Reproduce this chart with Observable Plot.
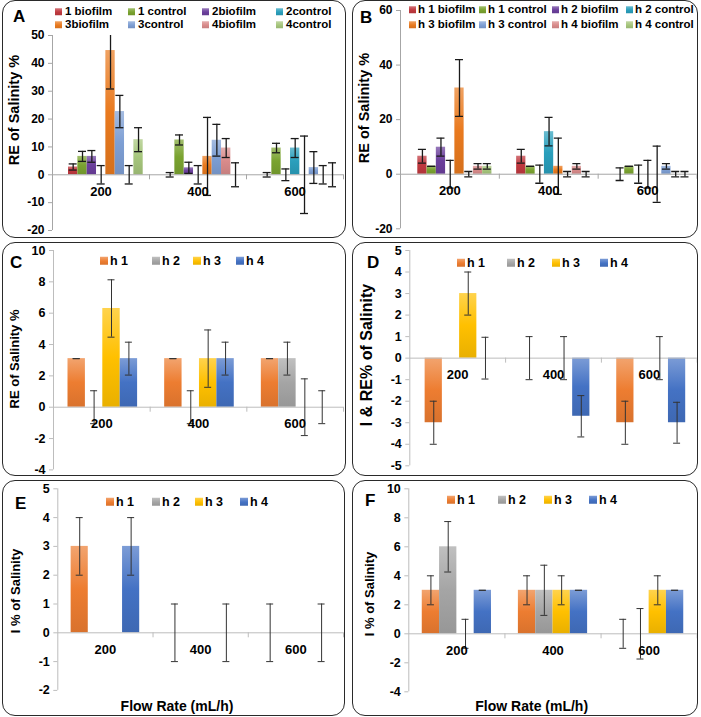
<!DOCTYPE html>
<html><head><meta charset="utf-8">
<script src="https://cdn.jsdelivr.net/npm/d3@7"></script>
<script src="https://cdn.jsdelivr.net/npm/@observablehq/plot@0.6"></script>
<style>
html,body{margin:0;padding:0;background:#fff;}
body{width:701px;height:717px;position:relative;overflow:hidden;font-family:'Liberation Sans',Arial,sans-serif;}
.box{position:absolute;border:1.5px solid #2a2a2a;border-radius:13px;box-sizing:border-box;pointer-events:none;}
.chart{position:absolute;}
.lbl{position:absolute;font-weight:bold;color:#000;white-space:nowrap;line-height:1;transform:translateY(-50%);}
.ctitle{position:absolute;font-weight:bold;color:#000;white-space:nowrap;line-height:1;transform:translate(-50%,-50%);}
.ytitle{position:absolute;font-weight:bold;color:#000;white-space:nowrap;line-height:1;transform:translate(-50%,-50%) rotate(-90deg);}
.leg{position:absolute;display:flex;align-items:center;font-weight:bold;color:#000;white-space:nowrap;line-height:1;transform:translateY(-50%);}
.sw{display:inline-block;flex:none;}
</style></head><body>
<script>
// ---------------- data ----------------
const flowRates = ["200", "400", "600"];

// Panel A
const seriesA = ["1 biofilm", "1 control", "2biofilm", "2control", "3biofilm", "3control", "4biofilm", "4control"];
const valuesA = [
  [2.8, 0, 0],
  [6.6, 12.5, 9.6],
  [6.6, 2.5, 0],
  [0, 0, 9.6],
  [44.6, 6.6, 0],
  [22.7, 12.4, 2.6],
  [0, 9.6, 0],
  [12.6, 0, 0]
];
const errorsA = [
  [1.1, 0.8, 0.8],
  [1.8, 1.8, 1.7],
  [2.1, 2.0, 2.1],
  [3.3, 3.3, 3.4],
  [13.8, 14, 13.9],
  [5.8, 5.7, 5.7],
  [3.3, 3.4, 3.3],
  [4.3, 4.3, 4.3]
];
const ticksA = [-20, -10, 0, 10, 20, 30, 40, 50];

// Panel B
const seriesB = ["h 1 biofilm", "h 1 control", "h 2 biofilm", "h 2 control", "h 3 biofilm", "h 3 control", "h 4 biofilm", "h 4 control"];
const valuesB = [
  [6.6, 6.6, 0],
  [2.9, 2.9, 2.9],
  [9.9, 0, 0],
  [0, 15.6, 0],
  [31.6, 2.9, 0],
  [0, 0, 2.9],
  [2.9, 2.9, 0],
  [2.9, 0, 0]
];
const errorsB = [
  [2.5, 2.5, 2.3],
  [0, 0, 0],
  [3.3, 3.3, 3.3],
  [5.1, 5.2, 5.1],
  [10.4, 10.3, 10.3],
  [1, 1, 1],
  [1, 1, 1],
  [1, 1, 1]
];
const ticksB = [-20, 0, 20, 40, 60];

// Panels C-F
const seriesH = ["h 1", "h 2", "h 3", "h 4"];

const valuesC = [
  [3.1, 3.1, 3.1],
  [0, 0, 3.1],
  [6.3, 3.1, 0],
  [3.1, 3.1, 0]
];
const errorsC = [
  [0, 0, 0],
  [1.05, 1.05, 1.05],
  [1.83, 1.83, 1.81],
  [1.05, 1.05, 1.05]
];
const ticksC = [-4, -2, 0, 2, 4, 6, 8, 10];

const valuesD = [
  [-3, 0, -3],
  [0, 0, 0],
  [3, 0, 0],
  [0, -2.7, -3]
];
const errorsD = [
  [1, 1, 1],
  [null, null, null],
  [1, 1, 1],
  [0.97, 0.96, 0.95]
];
const ticksD = [-5, -4, -3, -2, -1, 0, 1, 2, 3, 4, 5];

const valuesE = [
  [3, 0, 0],
  [0, 0, 0],
  [0, 0, 0],
  [3, 0, 0]
];
const errorsE = [
  [1, 1, 1],
  [null, null, null],
  [null, null, null],
  [1, 1, 1]
];
const ticksE = [-2, -1, 0, 1, 2, 3, 4, 5];

const valuesF = [
  [3, 3, 0],
  [6, 3, 0],
  [0, 3, 3],
  [3, 3, 3]
];
const errorsF = [
  [1, 1, 1],
  [1.74, 1.73, 1.74],
  [1, 1, 1],
  [0, 0, 0]
];
const ticksF = [-4, -2, 0, 2, 4, 6, 8, 10];

const colors8 = ["#c0393f", "#7aa330", "#6b3f9c", "#2a9fbc", "#e97a1f", "#7e9fd4", "#d98b8b", "#a6c67c"];
const colors4 = ["#ed7d31", "#a5a5a5", "#ffc000", "#4472c4"];

// ---------------- helpers ----------------
const FONT = "'Liberation Sans', Arial, sans-serif";
function lighten(c, t) { return d3.color(d3.interpolateRgb(c, "#ffffff")(t)).formatHex(); }
function darken(c, k) { return d3.color(c).darker(k).formatHex(); }

function addGradients(svg, prefix, colors) {
  const ns = "http://www.w3.org/2000/svg";
  const defs = document.createElementNS(ns, "defs");
  colors.forEach((c, i) => {
    const lg = document.createElementNS(ns, "linearGradient");
    lg.setAttribute("id", prefix + i);
    lg.setAttribute("x1", "0"); lg.setAttribute("y1", "0");
    lg.setAttribute("x2", "0"); lg.setAttribute("y2", "1");
    [[0, lighten(c, 0.3)], [0.5, c], [1, darken(c, 0.25)]].forEach(([o, col]) => {
      const st = document.createElementNS(ns, "stop");
      st.setAttribute("offset", o);
      st.setAttribute("stop-color", col);
      lg.appendChild(st);
    });
    defs.appendChild(lg);
  });
  svg.insertBefore(defs, svg.firstChild);
}

function div(cls, css, html) {
  const d = document.createElement("div");
  d.className = cls;
  Object.assign(d.style, css);
  if (html !== undefined) d.textContent = html;
  document.body.appendChild(d);
  return d;
}

function panel(cfg) {
  const {id, box, m, yDomain, yTicks, series, values, errors, colors, slotFrac, shift,
    tickFont, labelDy, axisColor, errColor, errWidth, cap} = cfg;
  const n = series.length;
  const slot = slotFrac / n;
  const rows = [];
  series.forEach((s, i) => flowRates.forEach((g, j) => {
    rows.push({series: s, i, g: j, value: values[i][j], err: errors[i][j]});
  }));
  const xc = d => d.g + shift + (d.i - (n - 1) / 2) * slot;
  const bars = rows.filter(d => d.value !== 0);
  const errs = rows.filter(d => d.err !== null && d.err !== undefined);
  const bounds = flowRates.map((d, i) => i + 0.5);

  const svg = Plot.plot({
    width: box.w, height: box.h,
    marginLeft: m[0], marginRight: m[1], marginTop: m[2], marginBottom: m[3],
    style: {fontFamily: FONT, background: "none", overflow: "visible"},
    x: {domain: [-0.5, flowRates.length - 0.5], axis: null},
    y: {domain: yDomain},
    color: {type: "ordinal", domain: series, range: series.map((s, i) => `url(#${id}${i})`)},
    marks: [
      Plot.ruleX([-0.5], {y1: () => yDomain[0], y2: () => yDomain[1], stroke: axisColor}),
      Plot.axisY({ticks: yTicks, tickSize: 4, tickPadding: 4, tickFormat: d => String(d),
        stroke: axisColor, fill: "#000", fontWeight: "bold", fontSize: tickFont, label: null}),
      Plot.rect(bars, {x1: d => xc(d) - slot / 2, x2: d => xc(d) + slot / 2,
        y1: () => 0, y2: "value", fill: "series"}),
      Plot.ruleY([0], {stroke: axisColor}),
      Plot.ruleX(bounds, {y1: () => 0, y2: () => 0, insetBottom: -5, stroke: axisColor}),
      Plot.ruleX(errs, {x: xc, y1: d => d.value - d.err, y2: d => d.value + d.err,
        stroke: errColor, strokeWidth: errWidth, clip: true}),
      Plot.ruleY(errs, {x1: xc, x2: xc, y: d => d.value + d.err, insetLeft: -cap, insetRight: -cap,
        stroke: errColor, strokeWidth: errWidth, clip: true}),
      Plot.ruleY(errs, {x1: xc, x2: xc, y: d => d.value - d.err, insetLeft: -cap, insetRight: -cap,
        stroke: errColor, strokeWidth: errWidth, clip: true}),
      Plot.text(flowRates, {x: (d, i) => i, y: () => 0, dy: labelDy, text: d => d,
        fontWeight: "bold", fontSize: 13, fill: "#000"})
    ]
  });
  addGradients(svg, id, colors);
  svg.style.background = "none";
  const wrap = div("chart", {left: box.x + "px", top: box.y + "px", width: box.w + "px", height: box.h + "px"});
  wrap.appendChild(svg);

  // border
  div("box", {left: box.x + "px", top: box.y + "px", width: box.w + "px", height: box.h + "px"});
  // panel letter
  div("lbl", {left: cfg.letter.x + "px", top: cfg.letter.y + "px", fontSize: "17px"}, cfg.letter.t);
  // y title
  div("ytitle", {left: cfg.ytitle.x + "px", top: cfg.ytitle.y + "px", fontSize: cfg.ytitle.s + "px"}, cfg.ytitle.t);
  // x title
  if (cfg.xtitle) div("ctitle", {left: cfg.xtitle.x + "px", top: cfg.xtitle.y + "px", fontSize: "14px"}, cfg.xtitle.t);
  // legend
  const L = cfg.legend;
  series.forEach((s, i) => {
    const col = i % L.cols.length, row = Math.floor(i / L.cols.length);
    const item = div("leg", {left: L.cols[col] + "px", top: L.rows[row] + "px", fontSize: L.font + "px"});
    const sw = document.createElement("span");
    sw.className = "sw";
    Object.assign(sw.style, {width: L.sw + "px", height: L.sw + "px", marginRight: L.gap + "px",
      background: `linear-gradient(to bottom, ${lighten(colors[i], 0.3)}, ${colors[i]} 55%, ${darken(colors[i], 0.25)})`});
    item.appendChild(sw);
    item.appendChild(document.createTextNode(s));
  });
}

const common8 = {tickFont: 12, labelDy: 17, axisColor: "#a6a6a6", errColor: "#1a1a1a", errWidth: 1.3, cap: 4};
const common4 = {tickFont: 12.5, labelDy: 17, axisColor: "#bdbdbd", errColor: "#333333", errWidth: 1, cap: 3.5};

panel({...common8, id: "gA", box: {x: 2, y: 0, w: 344, h: 238}, m: [50, 3, 35, 8],
  yDomain: [-20, 50], yTicks: ticksA, series: seriesA, values: valuesA, errors: errorsA, colors: colors8,
  slotFrac: 0.77, shift: 0.05,
  letter: {t: "A", x: 13, y: 16}, ytitle: {t: "RE of Salinity %", x: 13.5, y: 110, s: 14.5},
  legend: {cols: [55, 128, 202, 276], rows: [12, 24.5], font: 11.5, sw: 7, gap: 3}});

panel({...common8, id: "gB", box: {x: 352, y: 0, w: 346, h: 238}, m: [48, 1.5, 10, 9.7],
  yDomain: [-20, 60], yTicks: ticksB, series: seriesB, values: valuesB, errors: errorsB, colors: colors8,
  slotFrac: 0.75, shift: 0.05,
  letter: {t: "B", x: 360, y: 17}, ytitle: {t: "RE of Salinity %", x: 363.7, y: 108, s: 14.5},
  legend: {cols: [409, 479, 552, 626], rows: [9.5, 25], font: 11.5, sw: 7, gap: 2}});

panel({...common4, id: "gC", box: {x: 2, y: 242, w: 344, h: 234}, m: [51, 3, 8, 6.6],
  yDomain: [-4, 10], yTicks: ticksC, series: seriesH, values: valuesC, errors: errorsC, colors: colors4,
  slotFrac: 0.72, shift: 0.01,
  letter: {t: "C", x: 10, y: 262}, ytitle: {t: "RE of Salinity %", x: 14, y: 359, s: 13},
  legend: {cols: [100, 152, 193, 236], rows: [261], font: 12.5, sw: 8, gap: 2}});

panel({...common4, id: "gD", box: {x: 352, y: 242, w: 346, h: 234}, m: [57.3, 1.3, 8, 10.7],
  yDomain: [-5, 5], yTicks: ticksD, series: seriesH, values: valuesD, errors: errorsD, colors: colors4,
  slotFrac: 0.72, shift: 0.02,
  letter: {t: "D", x: 367, y: 261.5}, ytitle: {t: "I & RE% of Salinity", x: 366.7, y: 354.5, s: 16},
  legend: {cols: [457, 507, 552, 600], rows: [263], font: 12.5, sw: 8, gap: 2}});

panel({...common4, id: "gE", box: {x: 2, y: 480, w: 343, h: 236}, m: [55.3, 2, 8.3, 26.1],
  yDomain: [-2, 5], yTicks: ticksE, series: seriesH, values: valuesE, errors: errorsE, colors: colors4,
  slotFrac: 0.72, shift: 0,
  letter: {t: "E", x: 15, y: 502.5}, ytitle: {t: "I % of Salinity", x: 15, y: 590.7, s: 13},
  xtitle: {t: "Flow Rate (mL/h)", x: 177, y: 705.7},
  legend: {cols: [106, 152, 195, 240], rows: [502], font: 12.5, sw: 8, gap: 2}});

panel({...common4, id: "gF", box: {x: 352, y: 480, w: 346, h: 236}, m: [56.3, 1.3, 8.3, 24.7],
  yDomain: [-4, 10], yTicks: ticksF, series: seriesH, values: valuesF, errors: errorsF, colors: colors4,
  slotFrac: 0.72, shift: 0,
  letter: {t: "F", x: 365, y: 499.5}, ytitle: {t: "I % of Salinity", x: 369, y: 593.5, s: 13},
  xtitle: {t: "Flow Rate (mL/h)", x: 531.7, y: 705.7},
  legend: {cols: [447, 498, 544, 589], rows: [500], font: 12.5, sw: 8, gap: 2}});
</script>
</body></html>
